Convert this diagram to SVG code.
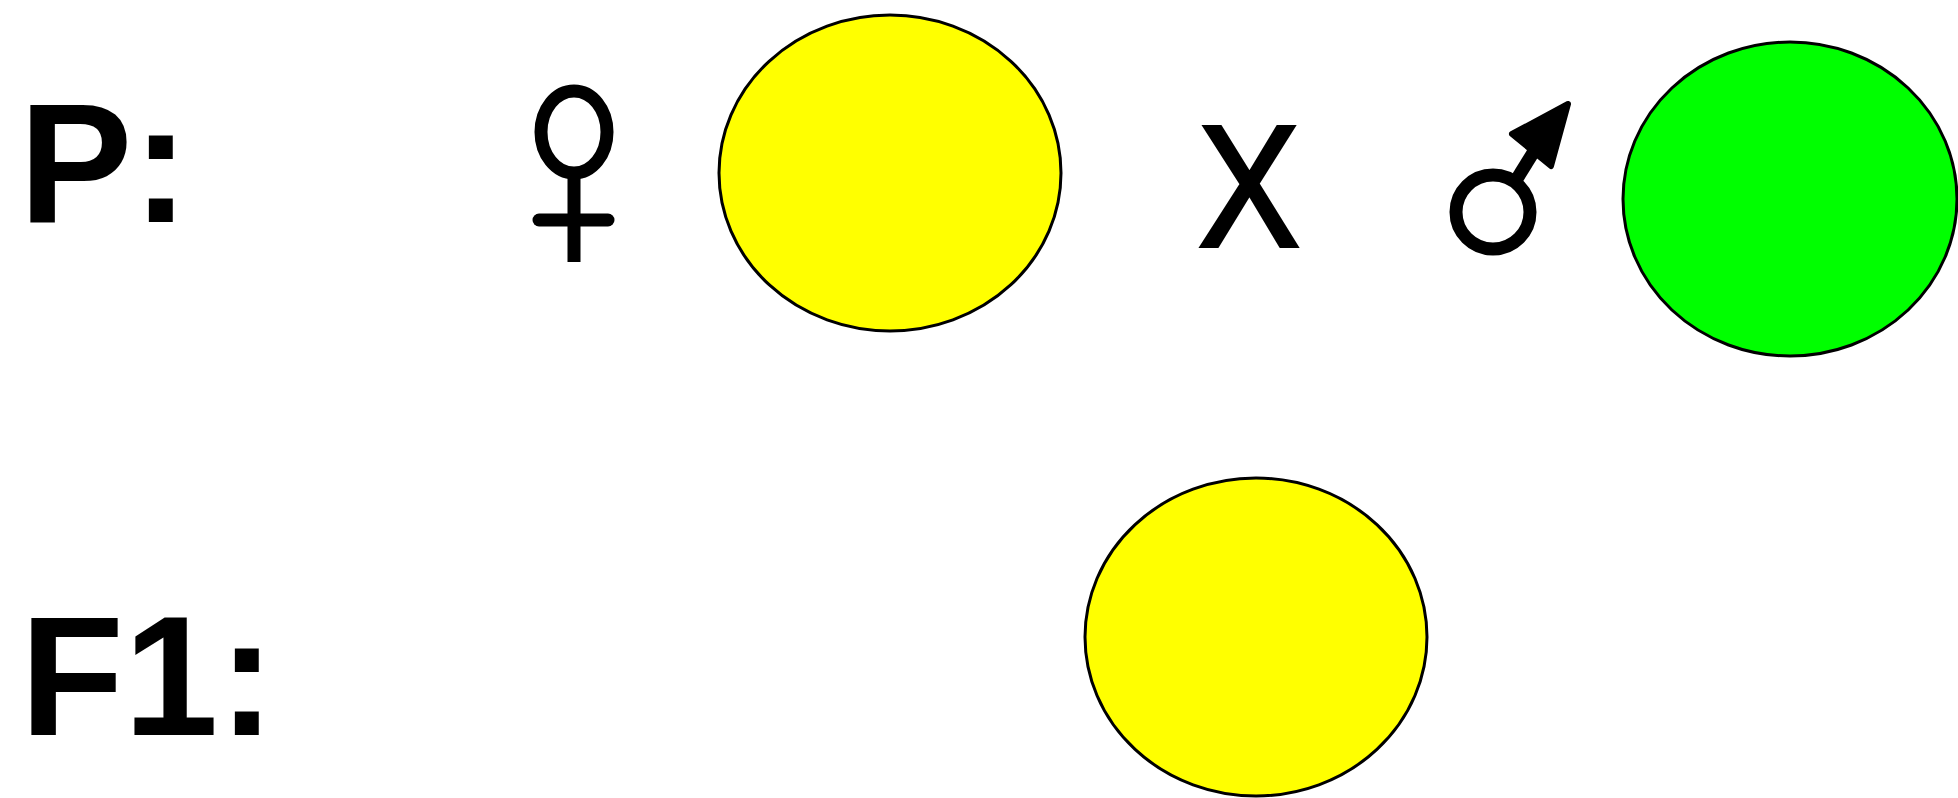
<svg xmlns="http://www.w3.org/2000/svg" width="1958" height="798" viewBox="0 0 1958 798">
  <style>
    .lbl { font-family: "Liberation Sans", Arial, sans-serif; font-weight: bold; font-size: 170px; fill: #000; }
    .cross { font-family: "Liberation Sans", Arial, sans-serif; font-size: 172px; fill: #000; stroke: #000; stroke-width: 4; }
    .pea { stroke: #000; stroke-width: 3; }
    .sym { fill: none; stroke: #000; stroke-width: 13; }
  </style>
  <rect width="1958" height="798" fill="#fff"/>
  <g id="label-p"><text class="lbl" x="19" y="222">P:</text></g>
  <g id="label-f1"><text class="lbl" x="20" y="735">F1:</text></g>
  <g id="female">
    <ellipse class="sym" cx="574" cy="132" rx="33" ry="41"/>
    <line class="sym" x1="574" y1="174" x2="574" y2="262" stroke-width="14"/>
    <line class="sym" x1="539" y1="220" x2="608" y2="220" stroke-width="16" stroke-linecap="round"/>
  </g>
  <g id="p-yellow"><ellipse class="pea" cx="890" cy="173" rx="171" ry="158" fill="#ffff00"/></g>
  <g id="cross"><text class="cross" x="1249" y="246" text-anchor="middle" transform="translate(1249 0) scale(0.88 1) translate(-1249 0)">X</text></g>
  <g id="male">
    <circle class="sym" cx="1493" cy="212" r="37" stroke-width="15"/>
    <line class="sym" x1="1515" y1="182" x2="1536" y2="148" stroke-width="15"/>
    <polygon points="1568,104 1512,134 1551,166" fill="#000" stroke="#000" stroke-width="6" stroke-linejoin="round"/>
  </g>
  <g id="p-green"><ellipse class="pea" cx="1790" cy="199" rx="167" ry="157" fill="#00ff00"/></g>
  <g id="f1-yellow"><ellipse class="pea" cx="1256" cy="637" rx="171" ry="159" fill="#ffff00"/></g>
  <g id="connectors"></g>
</svg>
